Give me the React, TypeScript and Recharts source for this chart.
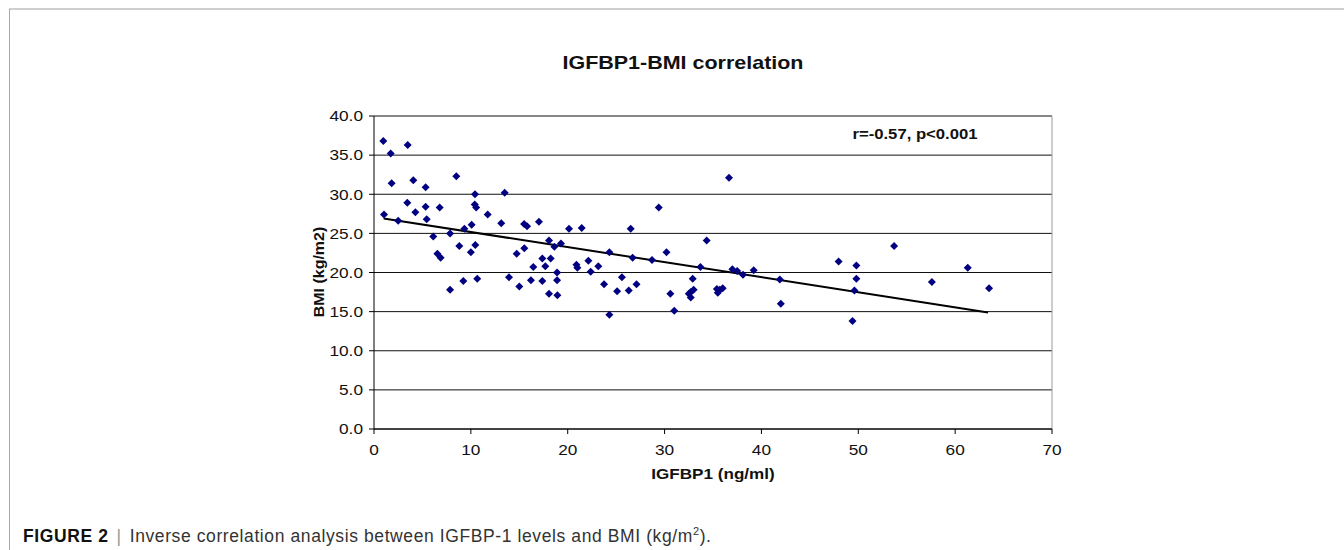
import { ScatterChart, Scatter, XAxis, YAxis, CartesianGrid, ReferenceLine } from 'recharts'

const igfbp1 = [
  0.96, 1.72, 3.48, 1.82, 4.06, 5.33, 8.5, 1.03, 2.5, 3.44, 4.27, 5.33, 5.44, 6.78, 6.12, 6.54, 6.88, 7.85, 7.85, 8.81,
  9.33, 10.08, 10.43, 10.4, 10.55, 10.46, 10.0, 9.22, 10.66, 11.74, 13.14, 13.49, 13.94, 14.73, 15.0, 15.5, 15.8, 15.52,
  16.45, 16.2, 17.03, 17.38, 17.69, 17.38, 18.07, 18.24, 18.62, 19.3, 18.9, 18.9, 18.07, 18.93, 20.13, 21.44, 20.9, 21.0,
  22.13, 22.37, 23.16, 23.75, 24.3, 24.3, 25.1, 25.6, 26.3, 26.5, 26.7, 27.1, 28.7, 29.4, 30.2, 30.6, 31.0, 32.9, 32.5,
  32.7, 32.7, 33.0, 33.7, 34.35, 36.65, 35.4, 35.5, 35.7, 36.0, 37.0, 37.5, 38.1, 39.2, 41.9, 42.0, 47.97, 49.8, 53.7,
  49.8, 49.6, 49.4, 57.6, 61.3, 63.5,
]

const bmi = [
  36.8, 35.2, 36.3, 31.4, 31.8, 30.9, 32.3, 27.4, 26.6, 28.9, 27.7, 28.4, 26.8, 28.3, 24.6, 22.4, 21.9, 25.0, 17.8, 23.4,
  25.6, 26.1, 30.0, 28.7, 28.3, 23.5, 22.6, 18.9, 19.2, 27.4, 26.3, 30.2, 19.4, 22.4, 18.2, 26.2, 25.9, 23.1,
  20.7, 19.0, 26.5, 21.8, 20.8, 18.9, 24.1, 21.8, 23.3, 23.7, 20.0, 19.0, 17.3, 17.1, 25.6, 25.7, 21.0, 20.6,
  21.5, 20.1, 20.8, 18.5, 22.6, 14.6, 17.6, 19.4, 17.7, 25.6, 21.9, 18.5, 21.6, 28.3, 22.6, 17.3, 15.1, 19.2, 17.3,
  17.5, 16.8, 17.8, 20.7, 24.1, 32.1, 17.9, 17.4, 17.8, 18.0, 20.4, 20.2, 19.7, 20.3, 19.1, 16.0, 21.4, 20.9, 23.4,
  19.2, 17.7, 13.8, 18.8, 20.6, 18.0,
]

// fitted line end points
const trendX = [1.0, 63.4]
const trendY = [26.9, 14.9]

const xTicks = [0, 10, 20, 30, 40, 50, 60, 70]
const yTicks = [0, 5, 10, 15, 20, 25, 30, 35, 40]

const points = igfbp1.map((x, i) => ({ x, y: bmi[i] }))
const font = '"Liberation Sans", Arial, sans-serif'

const Diamond = (props: any) => {
  const { cx, cy } = props
  if (cx == null || cy == null) return null
  const r = 4
  return <polygon points={`${cx},${cy - r} ${cx + r},${cy} ${cx},${cy + r} ${cx - r},${cy}`} fill="#000080" />
}

// the source picture is stretched sideways a bit, so the tick text is too
const XTick = (props: any) => {
  const { x, y, payload } = props
  return (
    <text x={0} y={0} transform={`translate(${x},${y}) scale(1.15,1)`} textAnchor="middle" dy="0.71em" fontSize={15} fontFamily={font} fill="#111">
      {payload.value}
    </text>
  )
}

const YTick = (props: any) => {
  const { x, y, payload } = props
  return (
    <text x={0} y={0} transform={`translate(${x},${y}) scale(1.15,1)`} textAnchor="end" dy="0.355em" fontSize={15} fontFamily={font} fill="#111">
      {Number(payload.value).toFixed(1)}
    </text>
  )
}

const stretch = (s: number) => ({ transform: `scaleX(${s})` })

export default function App() {
  return (
    <div style={{ position: 'absolute', left: 0, top: 0, width: 1344, height: 550, background: '#fff', fontFamily: font }}>
      <div style={{ position: 'absolute', left: 9, top: 8, width: 1335, height: 2, background: '#cfcfcf' }} />
      <div style={{ position: 'absolute', left: 9, top: 9, width: 1, height: 541, background: '#a8a8a8' }} />

      <div style={{ position: 'absolute', left: 0, top: 0 }}>
        <ScatterChart width={1344} height={550} margin={{ top: 116, right: 292, bottom: 81, left: 314 }}>
          <CartesianGrid vertical={false} stroke="#111" strokeWidth={1} />
          <XAxis
            type="number"
            dataKey="x"
            domain={[0, 70]}
            ticks={xTicks}
            height={40}
            stroke="#000"
            tickSize={5}
            tickMargin={10}
            tick={<XTick />}
          />
          <YAxis
            type="number"
            dataKey="y"
            domain={[0, 40]}
            ticks={yTicks}
            width={60}
            stroke="#000"
            tickSize={5}
            tickMargin={6}
            tick={<YTick />}
          />
          <ReferenceLine x={70} stroke="#9a9a9a" />
          <Scatter data={points} shape={Diamond} isAnimationActive={false} />
          <ReferenceLine
            segment={[{ x: trendX[0], y: trendY[0] }, { x: trendX[1], y: trendY[1] }]}
            stroke="#000"
            strokeWidth={2}
          />
        </ScatterChart>
      </div>

      <div style={{ position: 'absolute', left: 483, width: 400, top: 52, textAlign: 'center', fontWeight: 'bold', fontSize: 19, color: '#111', ...stretch(1.13) }}>
        IGFBP1-BMI correlation
      </div>
      <div style={{ position: 'absolute', left: 815, width: 200, top: 126, textAlign: 'center', fontWeight: 'bold', fontSize: 14, color: '#111', ...stretch(1.19) }}>
        r=-0.57, p&lt;0.001
      </div>
      <div style={{ position: 'absolute', left: 563, width: 300, top: 465, textAlign: 'center', fontWeight: 'bold', fontSize: 15, color: '#111', ...stretch(1.14) }}>
        IGFBP1 (ng/ml)
      </div>
      <div
        style={{
          position: 'absolute', left: 319 - 100, width: 200, top: 272 - 10, height: 20, lineHeight: '20px',
          textAlign: 'center', fontWeight: 'bold', fontSize: 14, color: '#111', transform: 'rotate(-90deg) scaleX(1.14)',
        }}
      >
        BMI (kg/m2)
      </div>
      <div style={{ position: 'absolute', left: 23, top: 525, fontSize: 17.5, letterSpacing: 0.6, color: '#333', whiteSpace: 'nowrap' }}>
        <b style={{ color: '#111' }}>FIGURE 2</b>
        <span style={{ color: '#999', margin: '0 8px' }}>|</span>
        Inverse correlation analysis between IGFBP-1 levels and BMI (kg/m<sup style={{ fontSize: 11 }}>2</sup>).
      </div>
    </div>
  )
}
